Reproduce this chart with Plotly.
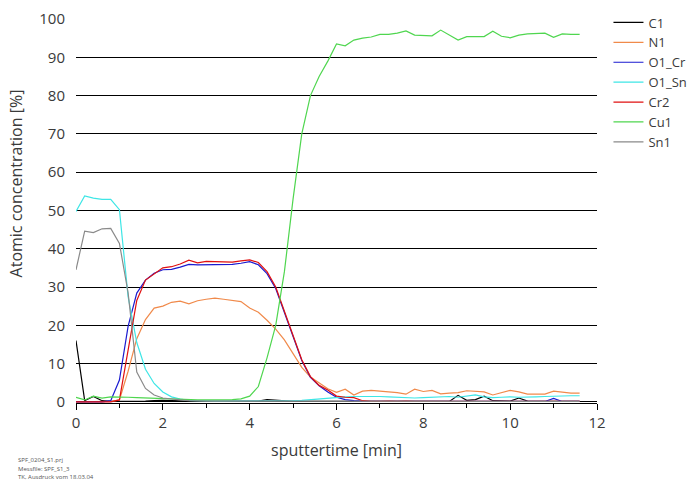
import plotly.graph_objects as go

# sputter time [min]
time_min = [0.0, 0.2, 0.4, 0.6, 0.8, 1.0, 1.2, 1.4, 1.6, 1.8,
            2.0, 2.2, 2.4, 2.6, 2.8, 3.0, 3.2, 3.4, 3.6, 3.8,
            4.0, 4.2, 4.4, 4.6, 4.8, 5.0, 5.2, 5.4, 5.6, 5.8,
            6.0, 6.2, 6.4, 6.6, 6.8, 7.0, 7.2, 7.4, 7.6, 7.8,
            8.0, 8.2, 8.4, 8.6, 8.8, 9.0, 9.2, 9.4, 9.6, 9.8,
            10.0, 10.2, 10.4, 10.6, 10.8, 11.0, 11.2, 11.4, 11.6]

C1 = [16.0, 0.3, 1.4, 0.3, 0.1, 0.1, 0.1, 0.2, 0.2, 0.3,
      0.4, 0.3, 0.2, 0.2, 0.1, 0.1, 0.1, 0.1, 0.1, 0.1,
      0.1, 0.2, 0.6, 0.4, 0.3, 0.1, 0.1, 0.1, 0.1, 0.1,
      0.2, 0.1, 0.1, 0.1, 0.1, 0.1, 0.1, 0.1, 0.1, 0.1,
      0.2, 0.1, 0.2, 0.1, 1.7, 0.4, 0.6, 1.5, 0.3, 0.3,
      0.2, 1.0, 0.2, 0.1, 0.1, 0.2, 0.1, 0.1, 0.1]

N1 = [0.0, 0.0, 0.0, 0.0, 0.1, 0.5, 8.0, 16.5, 21.5, 24.5,
      25.0, 26.0, 26.3, 25.6, 26.4, 26.8, 27.1, 26.8, 26.5, 26.2,
      24.5, 23.4, 21.3, 19.0, 16.2, 12.6, 9.0, 6.5, 5.0, 3.4,
      2.5, 3.3, 1.8, 2.8, 3.0, 2.7, 2.6, 2.4, 2.0, 3.3,
      2.7, 3.0, 2.1, 2.3, 2.4, 2.9, 2.8, 2.6, 1.8, 2.5,
      3.0, 2.6, 2.0, 2.0, 2.0, 2.8, 2.5, 2.3, 2.3]

O1_Cr = [0.0, 0.0, 0.0, 0.0, 0.3, 5.7, 19.7, 28.4, 31.8, 33.6,
         34.5, 34.6, 35.2, 35.9, 35.8, 35.8, 35.8, 35.8, 35.9, 36.2,
         36.6, 35.8, 33.5, 29.6, 23.2, 16.7, 10.8, 6.4, 4.2, 2.6,
         1.2, 0.6, 0.3, 0.2, 0.1, 0.1, 0.1, 0.1, 0.1, 0.1,
         0.1, 0.1, 0.1, 0.1, 0.1, 0.2, 0.1, 0.1, 0.1, 0.1,
         0.1, 0.1, 0.1, 0.1, 0.1, 0.9, 0.1, 0.1, 0.1]

O1_Sn = [49.7, 53.8, 53.2, 52.9, 52.9, 50.2, 27.5, 15.5, 8.5, 4.8,
         2.6, 1.3, 0.7, 0.4, 0.3, 0.2, 0.2, 0.2, 0.2, 0.2,
         0.2, 0.2, 0.2, 0.2, 0.2, 0.3, 0.4, 0.6, 0.8, 1.0,
         1.2, 1.3, 1.4, 1.4, 1.5, 1.4, 1.3, 1.2, 1.1, 1.0,
         1.1, 1.2, 1.3, 1.4, 1.2, 1.6, 1.8, 1.3, 1.1, 1.2,
         1.3, 1.2, 1.2, 1.3, 1.4, 1.5, 1.5, 1.6, 1.6]

Cr2 = [0.0, 0.0, 0.0, 0.0, 0.0, 0.5, 14.0, 26.5, 31.8, 33.5,
       35.0, 35.3, 36.0, 37.0, 36.3, 36.7, 36.6, 36.5, 36.5, 36.8,
       37.1, 36.4, 34.0, 30.0, 23.5, 17.0, 11.0, 6.6, 4.3, 3.1,
       1.5, 1.2, 1.1, 0.3, 0.1, 0.1, 0.2, 0.1, 0.2, 0.1,
       0.1, 0.2, 0.1, 0.1, 0.1, 0.2, 0.1, 0.1, 0.1, 0.2,
       0.1, 0.1, 0.1, 0.2, 0.1, 0.1, 0.1, 0.1, 0.1]

Cu1 = [1.2, 0.5, 1.5, 1.0, 1.3, 1.3, 1.2, 1.1, 1.0, 0.9,
       0.8, 0.7, 0.6, 0.5, 0.5, 0.5, 0.5, 0.6, 0.6, 0.8,
       1.5, 4.0, 11.5, 20.0, 34.0, 53.0, 70.0, 80.0, 85.0, 89.0,
       93.5, 93.0, 94.5, 95.0, 95.3, 96.0, 96.0, 96.3, 96.9, 95.8,
       95.7, 95.6, 97.1, 95.8, 94.5, 95.4, 95.4, 95.4, 96.8, 95.5,
       95.1, 95.8, 96.1, 96.2, 96.3, 95.2, 96.1, 96.0, 96.0]

Sn1 = [34.5, 44.6, 44.2, 45.2, 45.3, 41.4, 28.5, 7.8, 3.5, 1.8,
       1.0, 0.7, 0.5, 0.3, 0.2, 0.2, 0.2, 0.2, 0.1, 0.1,
       0.1, 0.1, 0.1, 0.1, 0.1, 0.1, 0.1, 0.1, 0.1, 0.1,
       0.1, 0.1, 0.1, 0.1, 0.1, 0.1, 0.1, 0.1, 0.1, 0.1,
       0.1, 0.1, 0.1, 0.1, 0.1, 0.1, 0.1, 0.1, 0.1, 0.1,
       0.1, 0.1, 0.1, 0.1, 0.1, 0.1, 0.1, 0.1, 0.1]

series_names = ["C1", "N1", "O1_Cr", "O1_Sn", "Cr2", "Cu1", "Sn1"]
series_values = [C1, N1, O1_Cr, O1_Sn, Cr2, Cu1, Sn1]
series_colors = ["#000000", "#f08a4b", "#1a1ad0", "#3ee6e6", "#e01010", "#4fd64f", "#8a8a8a"]

x_ticks = [0, 2, 4, 6, 8, 10, 12]
y_ticks = [0, 10, 20, 30, 40, 50, 60, 70, 80, 90, 100]
footer_lines = ["SPF_0204_S1.prj", "Messfile: SPF_S1_3", "TK, Ausdruck vom 18.03.04"]

for v in series_values:
    assert len(v) == len(time_min)

FONT = "Open Sans"
TXT = "#3a3a3a"

fig = go.Figure()
for name, vals, col in zip(series_names, series_values, series_colors):
    fig.add_trace(go.Scatter(x=time_min, y=vals, name=name, mode="lines",
                             line=dict(color=col, width=1.2)))

fig.update_layout(
    width=696, height=483,
    margin=dict(l=76, r=99, t=19, b=80, autoexpand=False),
    paper_bgcolor="white", plot_bgcolor="white",
    font=dict(family=FONT, color=TXT, size=14),
    showlegend=True,
    legend=dict(x=1.022, y=1.03, xanchor="left", yanchor="top",
                font=dict(size=13, color=TXT), bgcolor="rgba(0,0,0,0)",
                borderwidth=0, tracegroupgap=0),
    xaxis=dict(range=[0, 12], tickvals=x_ticks, ticks="outside", ticklen=6,
               tickcolor="black", tickwidth=1, showline=True, linecolor="black",
               linewidth=1, showgrid=False, zeroline=False,
               tickfont=dict(size=15, color=TXT),
               minor=dict(dtick=1, ticks="outside", ticklen=4, tickcolor="black", showgrid=False),
               title=dict(text="sputtertime [min]", font=dict(size=16, color=TXT), standoff=13)),
    yaxis=dict(range=[-0.3, 100], tickvals=y_ticks, ticks="", showline=False,
               showgrid=True, gridcolor="black", gridwidth=1.3, zeroline=False,
               tickfont=dict(size=15, color=TXT), ticklabelstandoff=10),
)

fig.add_annotation(text="Atomic concentration [%]", textangle=-90,
                   xref="paper", yref="paper", x=-0.115, y=0.572,
                   xanchor="center", yanchor="middle", showarrow=False,
                   font=dict(size=16, color=TXT, family=FONT))

for i, line in enumerate(footer_lines):
    fig.add_annotation(text=line, xref="paper", yref="paper",
                       x=-0.115, y=(403 - 460 - 8.5 * i) / 384,
                       xanchor="left", yanchor="middle", showarrow=False,
                       font=dict(size=6, color="#555555", family=FONT))

fig.write_html("out.html", config={"displayModeBar": False},
               post_script="document.body.style.margin='0px';document.body.style.padding='0px';")
